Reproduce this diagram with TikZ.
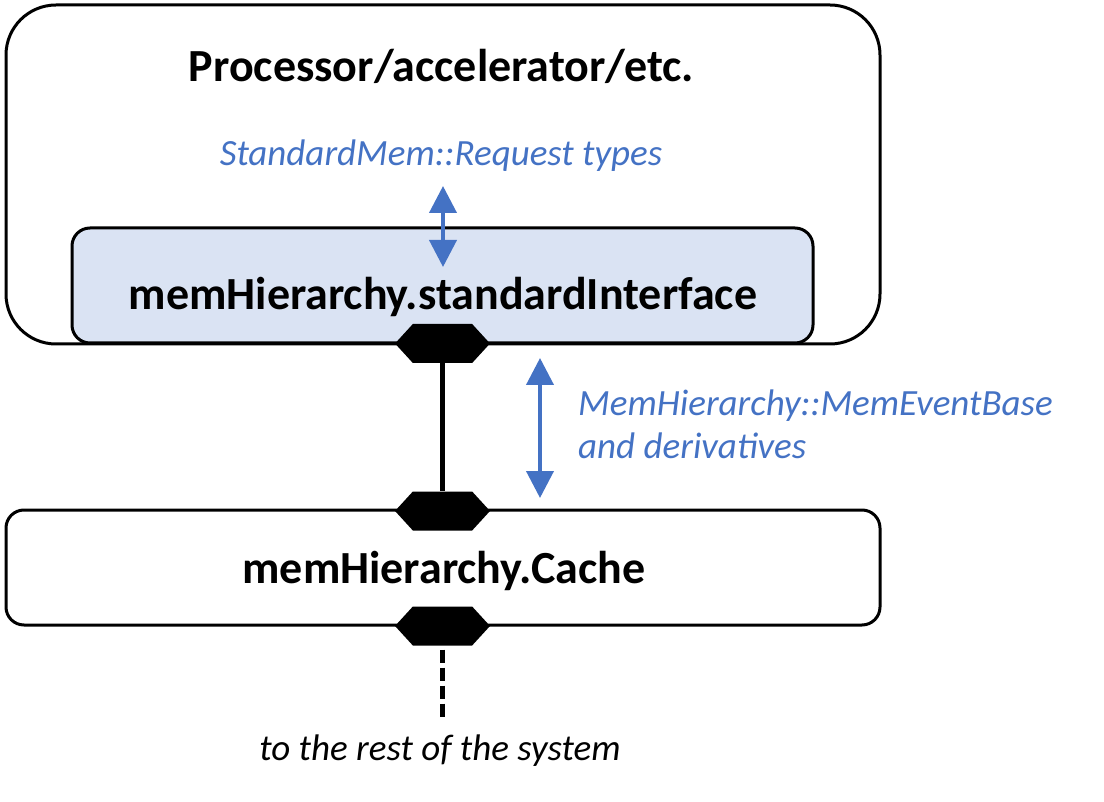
\documentclass[tikz,border=0pt]{standalone}
\usepackage{fontspec}
\setmainfont{Carlito}
\usetikzlibrary{arrows.meta,shapes.symbols}
\definecolor{memblue}{HTML}{4472C4}
\definecolor{memfill}{HTML}{DAE3F3}
\tikzset{
  compbox/.style={draw, line width=3pt, rounded corners=18pt, inner sep=0pt},
  port/.style={signal, signal to=east and west, signal pointer angle=95,
    fill=black, inner sep=0pt, minimum width=95pt, minimum height=39pt},
  title/.style={font=\fontsize{46}{55}\selectfont\bfseries, anchor=base, inner sep=0pt},
  note/.style={font=\fontsize{37}{43}\selectfont\itshape, inner sep=0pt},
  msg/.style={memblue, line width=4pt,
    {Triangle[width=27pt,length=27pt]}-{Triangle[width=27pt,length=27pt]}},
}
\begin{document}
\begin{tikzpicture}[x=1pt, y=-1pt]
    \useasboundingbox (0,0) rectangle (1104,802);

    % cajas de los componentes
    \node[compbox, rounded corners=50pt, minimum width=874pt, minimum height=339pt] (proc) at (443,174.5) {};
    \node[compbox, fill=memfill, minimum width=741pt, minimum height=115pt] (stdif) at (442.5,285.5) {};
    \node[compbox, minimum width=874pt, minimum height=115pt] (cache) at (443,567.5) {};

    % textos de las cajas
    \node[title] (proctitle) at (441.5,82) {Processor/accelerator/etc.};
    \node[title] (stdiftitle) at (443,310) {memHierarchy.standardInterface};
    \node[title] (cachetitle) at (444,583) {memHierarchy.Cache};

    % puertos
    \node[port] (p1) at (442.5,343.5) {};
    \node[port] (p2) at (442.5,511) {};
    \node[port] (p3) at (442.5,626) {};

    % enlaces
    \draw[line width=4.5pt] (p1.south) -- (p2.north);
    \coordinate (rest) at (442.5,718);
    \draw[line width=4.5pt, dash pattern=on 13pt off 5pt, dash phase=-4pt] (p3.south) -- (rest);

    % mensajes
    \coordinate (reqtop) at (443,186);
    \coordinate (reqbot) at (443,267);
    \draw[msg] (reqtop) -- (reqbot);
    \coordinate (evtop) at (540,358);
    \coordinate (evbot) at (540,498);
    \draw[msg] (evtop) -- (evbot);

    \node[note, memblue, anchor=base] (reqlabel) at (441,166) {StandardMem::Request types};
    \node[note, memblue, anchor=base west, align=left] (evlabel) at (578,458)
        {MemHierarchy::MemEventBase\\and derivatives};
    \node[note, anchor=base] (restlabel) at (440,760) {to the rest of the system};
\end{tikzpicture}
\end{document}
